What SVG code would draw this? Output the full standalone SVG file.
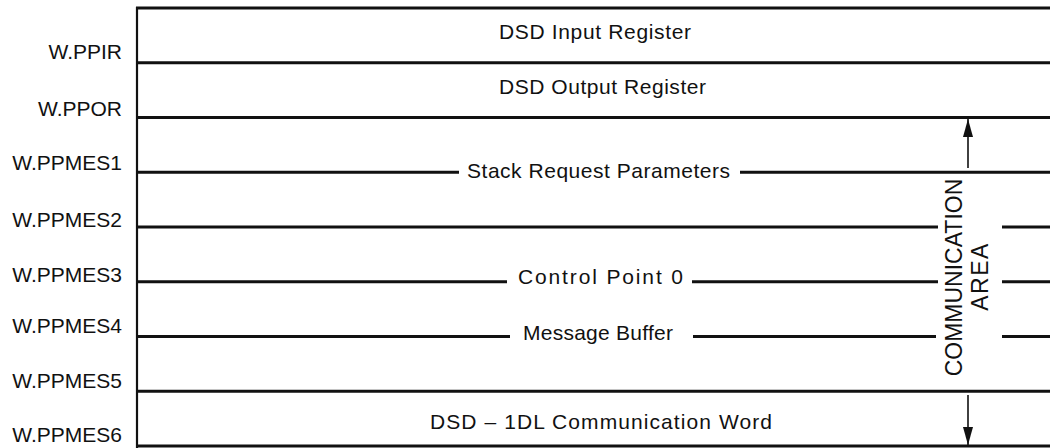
<svg xmlns="http://www.w3.org/2000/svg" width="1050" height="448" viewBox="0 0 1050 448">
<style>
.bg{fill:#fff}
.rule{stroke:#111;stroke-width:2.8;fill:none}
.vert{stroke:#111;stroke-width:2.2;fill:none}
.lbl{font-family:"Liberation Sans",Arial,Helvetica,sans-serif;font-size:21px;fill:#111;text-anchor:end}
.txt{font-family:"Liberation Sans",Arial,Helvetica,sans-serif;font-size:21px;fill:#111}
.vtxt{font-family:"Liberation Sans",Arial,Helvetica,sans-serif;font-size:23px;fill:#111;text-anchor:middle}
.arr{stroke:#111;stroke-width:1.6;fill:none}
</style>
<defs>
<marker id="ah" markerUnits="userSpaceOnUse" markerWidth="18" markerHeight="10" refX="18" refY="5" orient="auto">
<path d="M0,0 L18,5 L0,10 z" fill="#111"/>
</marker>
</defs>
<rect class="bg" x="0" y="0" width="1050" height="448"/>

<g id="frame">
<line class="vert" x1="137" y1="7" x2="137" y2="448"/>
<line class="rule" x1="136" y1="8" x2="1050" y2="8"/>
<line class="rule" x1="137" y1="62.75" x2="1050" y2="62.75"/>
<line class="rule" x1="137" y1="117.5" x2="1050" y2="117.5"/>
<path class="rule" d="M137,172.25 H459 M740,172.25 H1050"/>
<path class="rule" d="M137,227 H938 M1002,227 H1050"/>
<path class="rule" d="M137,281.75 H507 M692,281.75 H938 M1002,281.75 H1050"/>
<path class="rule" d="M137,336.5 H510 M693,336.5 H936 M1002,336.5 H1050"/>
<line class="rule" x1="137" y1="391.25" x2="1050" y2="391.25"/>
<line class="rule" x1="137" y1="446" x2="1050" y2="446"/>
</g>

<g id="row-ppir">
<text class="lbl" x="122" y="59">W.PPIR</text>
<text class="txt" x="499" y="39" textLength="192" lengthAdjust="spacing">DSD Input Register</text>
</g>
<g id="row-ppor">
<text class="lbl" x="122" y="116">W.PPOR</text>
<text class="txt" x="499" y="94" textLength="207" lengthAdjust="spacing">DSD Output Register</text>
</g>
<g id="row-ppmes1">
<text class="lbl" x="122" y="170">W.PPMES1</text>
<text class="txt" x="467" y="178" textLength="263" lengthAdjust="spacing">Stack Request Parameters</text>
</g>
<g id="row-ppmes2">
<text class="lbl" x="122" y="227">W.PPMES2</text>
</g>
<g id="row-ppmes3">
<text class="lbl" x="122" y="282">W.PPMES3</text>
<text class="txt" x="518" y="284" textLength="165" lengthAdjust="spacing">Control Point 0</text>
</g>
<g id="row-ppmes4">
<text class="lbl" x="122" y="333">W.PPMES4</text>
<text class="txt" x="523" y="340" textLength="150" lengthAdjust="spacing">Message Buffer</text>
</g>
<g id="row-ppmes5">
<text class="lbl" x="122" y="388">W.PPMES5</text>
</g>
<g id="row-ppmes6">
<text class="lbl" x="122" y="442">W.PPMES6</text>
<text class="txt" x="430" y="429" textLength="342" lengthAdjust="spacing">DSD – 1DL Communication Word</text>
</g>

<g id="comm-area">
<text class="vtxt" transform="translate(962,277.5) rotate(-90)">COMMUNICATION</text>
<text class="vtxt" transform="translate(988,276.5) rotate(-90)" letter-spacing="1.5">AREA</text>
</g>

<g id="connectors">
<line class="arr" x1="968" y1="168" x2="968" y2="119" marker-end="url(#ah)"/>
<line class="arr" x1="968" y1="395" x2="968" y2="445" marker-end="url(#ah)"/>
</g>
</svg>
